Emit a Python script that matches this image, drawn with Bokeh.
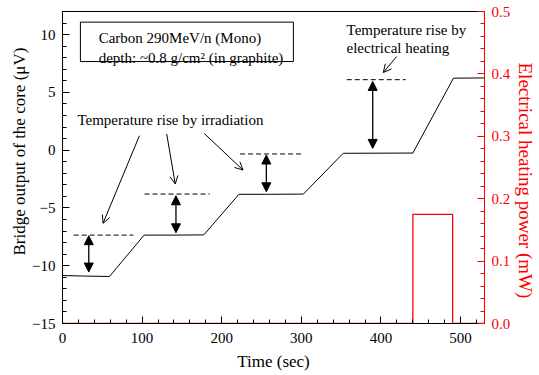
from bokeh.plotting import figure
from bokeh.models import (Range1d, LinearAxis, SingleIntervalTicker, PrintfTickFormatter,
                          Arrow, NormalHead, OpenHead, BoxAnnotation, Label, Title)
from bokeh.embed import file_html
from bokeh.resources import INLINE

FONT = "Liberation Serif"

# Bridge output of the core (sec, μV) — breakpoints of the recorded trace
time_s = [0, 30, 59, 102.5, 140, 177.5, 221.6, 260, 302.5, 352.5, 400, 440, 491, 530]
bridge_uv = [-10.85, -10.9, -10.93, -7.35, -7.35, -7.33, -3.82, -3.82, -3.8, -0.27, -0.26, -0.25, 6.23, 6.25]

# Electrical heater power (sec, mW)
heat_t = [0, 440, 440, 490, 490, 530]
heat_mw = [0, 0, 0.175, 0.175, 0, 0]

# Dashed reference levels marking each temperature step
level_y = [-7.35, -3.8, -0.33, 6.1]
level_x0 = [14, 103, 223, 357]
level_x1 = [89, 185, 300, 431]

# Double arrows spanning each rise
rise_x = [33, 142.5, 256, 389.6]
rise_top = [-7.4, -3.95, -0.42, 5.95]
rise_bottom = [-10.55, -7.15, -3.6, 0.15]

# Pointer arrows from the annotation texts
irr_start = [(96.6, 1.25), (130.9, 1.4), (177.9, 1.45)]
irr_end = [(50.9, -6.33), (141.6, -2.93), (226.7, -1.72)]
elec_start = (419.6, 8.1)
elec_end = (402.9, 6.72)

p = figure(width=539, height=375, output_backend="svg", toolbar_location=None,
           x_range=Range1d(0, 530), y_range=Range1d(-15, 12),
           min_border_left=62, min_border_right=53, min_border_top=11, min_border_bottom=52)
p.extra_y_ranges = {"power": Range1d(0, 0.5)}
p.xgrid.visible = False
p.ygrid.visible = False
p.outline_line_color = "black"
p.outline_line_width = 1
p.background_fill_color = "white"
p.border_fill_color = "white"

def style_axis(ax, color):
    ax.major_label_text_font = FONT
    ax.major_label_text_font_size = "15px"
    ax.major_label_text_color = color
    ax.axis_line_color = color
    ax.major_tick_line_color = color
    ax.minor_tick_line_color = color
    ax.major_tick_out = 0
    ax.major_tick_in = 7
    ax.minor_tick_out = 0
    ax.minor_tick_in = 4

xa = p.xaxis[0]
xa.ticker = SingleIntervalTicker(interval=100, num_minor_ticks=5)
style_axis(xa, "black")
xa.axis_label = "Time (sec)"
xa.axis_label_text_font = FONT
xa.axis_label_text_font_style = "normal"
xa.axis_label_text_font_size = "17px"
xa.axis_label_text_color = "black"
xa.major_label_standoff = 9
xa.axis_label_standoff = 6

ya = p.yaxis[0]
ya.ticker = SingleIntervalTicker(interval=5, num_minor_ticks=5)
style_axis(ya, "black")
ya.major_label_standoff = 7

ra = LinearAxis(y_range_name="power", ticker=SingleIntervalTicker(interval=0.1, num_minor_ticks=5),
                formatter=PrintfTickFormatter(format="%.1f"))
style_axis(ra, "red")
ra.major_label_standoff = 7
p.add_layout(ra, "right")

# Vertical axis titles in the side borders
p.add_layout(Title(text="Bridge output of the core (μV)", align="left", offset=68,
                   text_font=FONT, text_font_size="17px", text_font_style="normal",
                   text_color="black", standoff=2), "left")
p.add_layout(Title(text="Electrical heating power (mW)", align="left", offset=51,
                   text_font=FONT, text_font_size="19px", text_font_style="normal",
                   text_color="red", standoff=3), "right")

# Heater power trace
p.line(heat_t, heat_mw, y_range_name="power", line_color="red", line_width=1.3)

# Bridge output trace
p.line(time_s, bridge_uv, line_color="black", line_width=1)

# Dashed levels
for x0, x1, y in zip(level_x0, level_x1, level_y):
    p.line([x0, x1], [y, y], line_color="black", line_width=1, line_dash="5 3")

# Double-headed rise arrows
for x, yt, yb in zip(rise_x, rise_top, rise_bottom):
    p.add_layout(Arrow(x_start=x, y_start=yb, x_end=x, y_end=yt, line_width=1.3,
                       start=NormalHead(size=9, fill_color="black", line_color="black"),
                       end=NormalHead(size=9, fill_color="black", line_color="black")))

# Pointer arrows
for (xs, ys), (xe, ye) in zip(irr_start, irr_end):
    p.add_layout(Arrow(x_start=xs, y_start=ys, x_end=xe, y_end=ye, line_width=1,
                       end=OpenHead(size=8, line_width=1)))
p.add_layout(Arrow(x_start=elec_start[0], y_start=elec_start[1], x_end=elec_end[0], y_end=elec_end[1],
                   line_width=1, end=OpenHead(size=8, line_width=1)))

# Beam condition box
p.add_layout(BoxAnnotation(left=22.5, right=290, bottom=7.67, top=11.08,
                           fill_color=None, fill_alpha=0, line_color="black",
                           line_alpha=1, line_width=1))

def add_text(x, y, txt):
    p.add_layout(Label(x=x, y=y, text=txt, text_font=FONT, text_font_size="15px",
                       text_color="black", text_baseline="alphabetic", text_align="left"))

add_text(45.4, 9.75, "Carbon 290MeV/n (Mono)")
add_text(45.4, 7.96, "depth: ~0.8 g/cm² (in graphite)")
add_text(18.75, 2.62, "Temperature rise by irradiation")
add_text(356.7, 10.42, "Temperature rise by")
add_text(356.7, 8.83, "electrical heating")

open("out.html", "w").write(file_html(p, INLINE))
